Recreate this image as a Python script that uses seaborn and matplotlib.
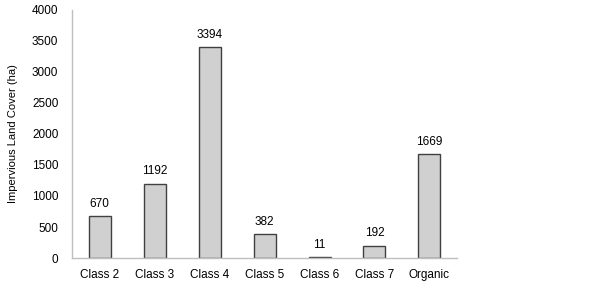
import pandas as pd
import seaborn as sns
import matplotlib.pyplot as plt

categories = ["Class 2", "Class 3", "Class 4", "Class 5", "Class 6", "Class 7", "Organic"]
values = [670, 1192, 3394, 382, 11, 192, 1669]

df = pd.DataFrame({"cls": categories, "area": values})

sns.set_style("white")
plt.rcParams['font.family'] = ['Liberation Sans', 'DejaVu Sans']
plt.rcParams['text.color'] = 'black'
plt.rcParams['axes.labelcolor'] = 'black'
plt.rcParams['xtick.color'] = 'black'
plt.rcParams['ytick.color'] = 'black'

fig = plt.figure(figsize=(6.02, 2.82), dpi=100)
ax = fig.add_axes([0.12, 0.085, 0.639, 0.88])

sns.barplot(data=df, x="cls", y="area", color="#d0d0d0", edgecolor="#404040",
            linewidth=1.0, width=0.4, saturation=1, ax=ax)

for i, v in enumerate(values):
    ax.text(i, v + 110, str(v), ha="center", va="bottom", fontsize=8.5)

ax.set_ylim(0, 4000)
ax.set_yticks(range(0, 4001, 500))
ax.set_xlim(-0.5, len(categories) - 0.5)
ax.set_xlabel("")
ax.set_ylabel("Impervious Land Cover (ha)", fontsize=8, labelpad=10)
ax.tick_params(axis="both", length=0, labelsize=8.5)
ax.tick_params(axis="x", pad=8)
ax.tick_params(axis="y", pad=10)

for s in ["top", "right"]:
    ax.spines[s].set_visible(False)
for s in ["left", "bottom"]:
    ax.spines[s].set_color("#bfbfbf")
    ax.spines[s].set_linewidth(1.0)

fig.savefig("out.png", dpi=100)
